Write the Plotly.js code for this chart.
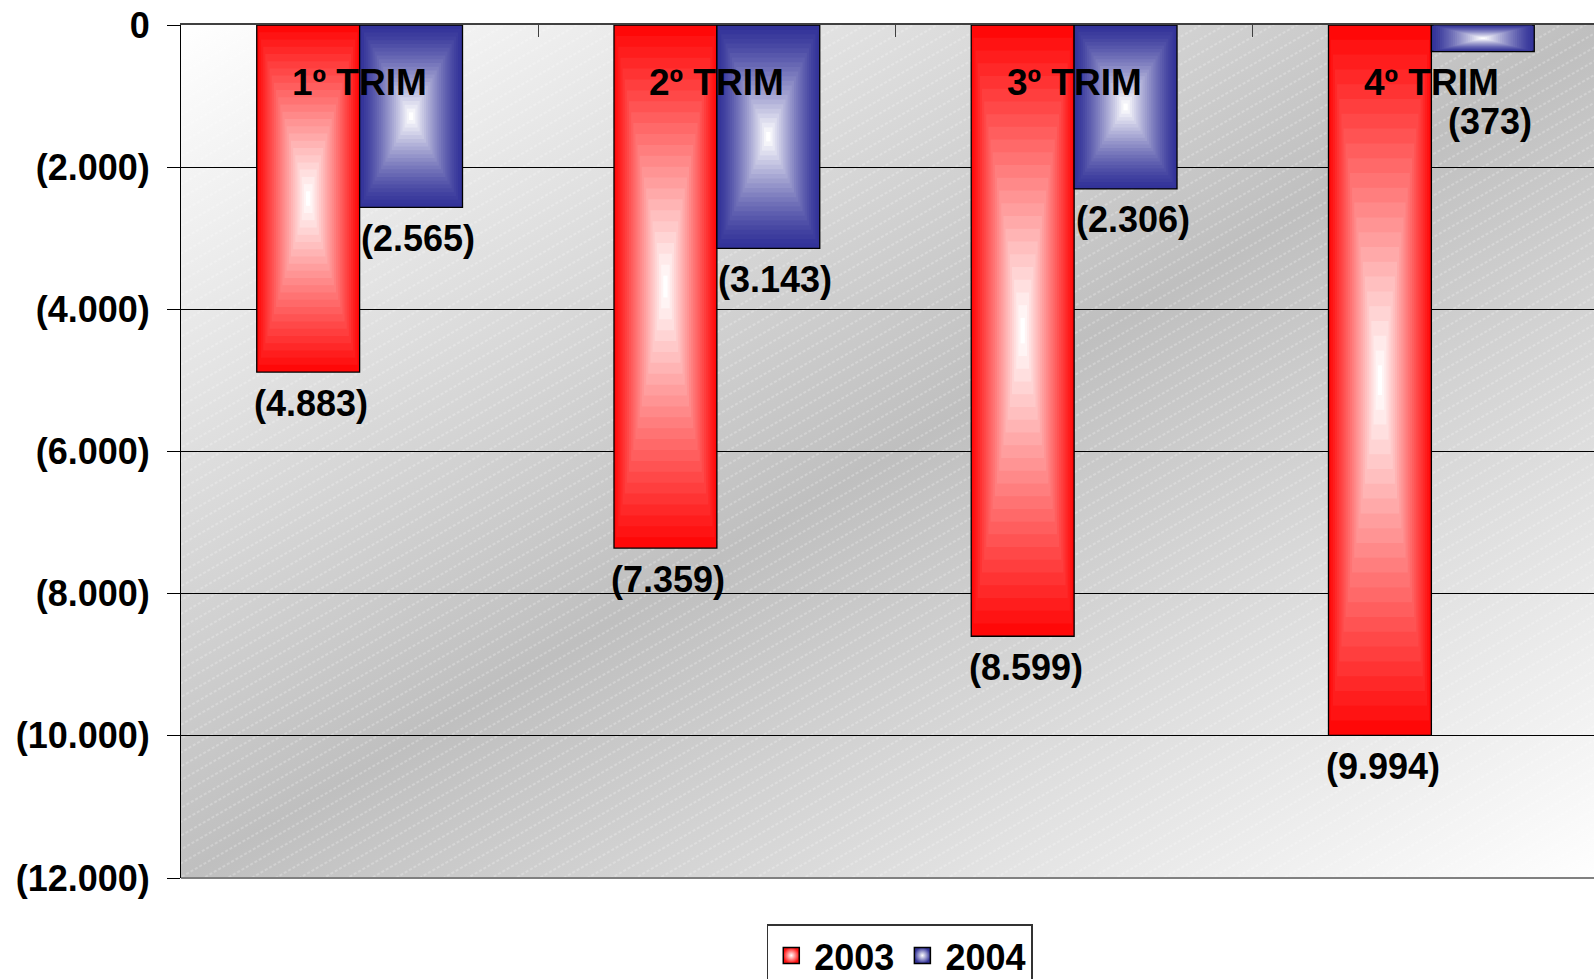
<!DOCTYPE html>
<html>
<head>
<meta charset="utf-8">
<script src="https://cdn.plot.ly/plotly-3.0.1.min.js"></script>
<style>
html,body{margin:0;padding:0;overflow:hidden;background:#fff;}
#chart{width:1620px;height:1000px;}
</style>
</head>
<body>
<div id="chart"></div>
<script>
// ---- data ----
const categories = ["1º TRIM", "2º TRIM", "3º TRIM", "4º TRIM"];
const seriesNames = ["2003", "2004"];
const values2003 = [-4883, -7359, -8599, -9994];
const values2004 = [-2565, -3143, -2306, -373];
const yTickVals = [0, -2000, -4000, -6000, -8000, -10000, -12000];

// ---- helpers ----
function fmt(v) {
  if (v === 0) return "0";
  const s = Math.abs(v).toString().replace(/\B(?=(\d{3})+(?!\d))/g, ".");
  return v < 0 ? "(" + s + ")" : s;
}
function mix(c1, c2, t) {
  const r = Math.round(c1[0] + (c2[0] - c1[0]) * t);
  const g = Math.round(c1[1] + (c2[1] - c1[1]) * t);
  const b = Math.round(c1[2] + (c2[2] - c1[2]) * t);
  return "rgb(" + r + "," + g + "," + b + ")";
}

const FONT = "Liberation Sans, Arial, Helvetica, sans-serif";
const series = [
  {name: seriesNames[0], values: values2003, edge: [255, 8, 8], edgeCss: "#ff1010", pow: 1.0, dx: 3},
  {name: seriesNames[1], values: values2004, edge: [51, 51, 153], edgeCss: "#333399", pow: 1.3, dx: 7}
];
const barW = 0.288;       // width of one bar, in category units
const LAYERS = 24;        // steps of the rectangular gradient

const traces = [];
series.forEach((s, si) => {
  const start = si === 0 ? -barW : 0;
  for (let k = 0; k < LAYERS; k++) {
    const f = k / LAYERS;
    const t = Math.pow(k / (LAYERS - 1), s.pow);
    traces.push({
      type: "bar",
      x: categories,
      y: s.values.map(v => v * (1 - f)),
      base: s.values.map(v => v * f / 2),
      width: barW * (1 - f),
      offset: start + barW * f / 2,
      marker: {
        color: mix(s.edge, [255, 255, 255], t),
        line: {color: k === 0 ? "#000000" : "rgba(0,0,0,0)", width: k === 0 ? 1.3 : 0}
      },
      showlegend: false,
      hoverinfo: "skip"
    });
  }
});
// legend entries
series.forEach(s => {
  traces.push({
    type: "scatter", mode: "markers", x: [null], y: [null], name: s.name,
    marker: {symbol: "square", size: 16, color: s.edgeCss,
      gradient: {type: "radial", color: "#ffffff"},
      line: {color: "#000000", width: 1.5}},
    hoverinfo: "skip"
  });
});

// annotations: category names and value labels
const annotations = [];
categories.forEach((c, i) => {
  annotations.push({
    x: i, xref: "x", y: 1, yref: "paper", yshift: -57,
    text: c, showarrow: false, xanchor: "center", yanchor: "middle",
    font: {family: FONT, size: 37, color: "#000", weight: 700}
  });
});
const labelFloor = -920; // keep very short bars' labels clear of the category names
series.forEach((s, si) => {
  s.values.forEach((v, i) => {
    annotations.push({
      x: i + (si === 0 ? -barW / 2 : barW / 2), xref: "x", xshift: s.dx,
      y: Math.min(v, labelFloor), yref: "y", yshift: -31,
      text: fmt(v), showarrow: false, xanchor: "center", yanchor: "middle",
      font: {family: FONT, size: 36, color: "#000", weight: 700}
    });
  });
});

const bgSvg = "<svg xmlns='http://www.w3.org/2000/svg' width='1429' height='853' viewBox='0 0 1429 853' preserveAspectRatio='none'>" +
  "<defs><linearGradient id='g' x1='0' y1='0' x2='1' y2='1'>" +
  "<stop offset='0' stop-color='#ffffff'/><stop offset='0.5' stop-color='#bfbfbf'/><stop offset='1' stop-color='#ffffff'/></linearGradient>" +
  "<pattern id='p' width='40' height='12' patternUnits='userSpaceOnUse' patternTransform='rotate(-30)'>" +
  "<line x1='0' y1='6' x2='40' y2='6' stroke='#ffffff' stroke-width='1' stroke-dasharray='3 2' stroke-opacity='0.45'/></pattern></defs>" +
  "<rect width='1429' height='853' fill='url(#g)'/><rect width='1429' height='853' fill='url(#p)'/></svg>";

const layout = {
  width: 1620, height: 1000,
  margin: {l: 181, r: 10, t: 25, b: 122, pad: 0},
  paper_bgcolor: "#ffffff",
  plot_bgcolor: "rgba(0,0,0,0)",
  barmode: "overlay",
  showlegend: true,
  hovermode: false,
  font: {family: FONT, color: "#000"},
  images: [{
    source: "data:image/svg+xml;charset=utf-8," + encodeURIComponent(bgSvg),
    xref: "paper", yref: "paper", x: 0, y: 1, sizex: 1, sizey: 1,
    sizing: "stretch", xanchor: "left", yanchor: "top", layer: "below"
  }],
  xaxis: {
    type: "category", side: "top", range: [-0.5, 3.5],
    showline: true, linecolor: "#404040", linewidth: 2,
    ticks: "inside", tickson: "boundaries", ticklen: 12, tickcolor: "#404040", tickwidth: 1,
    showticklabels: false, showgrid: false, zeroline: false, fixedrange: true
  },
  yaxis: {
    range: [-12000, 0], tickvals: yTickVals, ticktext: yTickVals.map(fmt),
    ticks: "outside", ticklen: 13, tickcolor: "#000", tickwidth: 1,
    showline: true, linecolor: "#000", linewidth: 1,
    showgrid: true, gridcolor: "#000", gridwidth: 1,
    zeroline: false, ticklabelstandoff: 10,
    tickfont: {family: FONT, size: 36, color: "#000", weight: 700},
    fixedrange: true
  },
  shapes: [{
    type: "line", xref: "paper", yref: "paper", x0: 0, x1: 1, y0: 0, y1: 0,
    line: {color: "#808080", width: 2}
  }],
  legend: {
    orientation: "h", x: 0.503, xanchor: "center", y: -0.054, yanchor: "top",
    bgcolor: "#ffffff", bordercolor: "#333333", borderwidth: 1.5,
    font: {family: FONT, size: 36, color: "#000", weight: 700},
    itemsizing: "trace", itemwidth: 36
  },
  annotations: annotations
};

Plotly.newPlot("chart", traces, layout, {displayModeBar: false, staticPlot: true});
</script>
</body>
</html>
